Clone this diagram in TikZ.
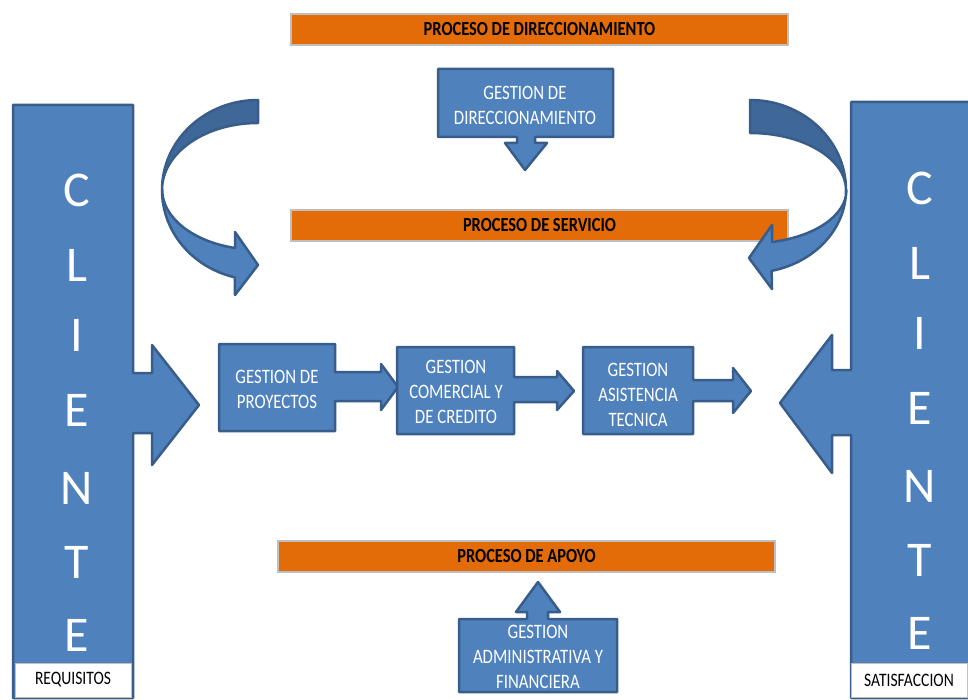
\documentclass[tikz,border=0pt]{standalone}
\usepackage{fontspec}
\setmainfont{Carlito}
\newfontfamily\cond{Carlito}[FakeStretch=0.82]
\definecolor{bblue}{HTML}{4F81BD}
\definecolor{bdark}{HTML}{3F6797}
\definecolor{bline}{HTML}{385D8A}
\definecolor{borange}{HTML}{E36C09}
\definecolor{bgray}{HTML}{BFBFBF}
\tikzset{
  blk/.style={fill=bblue, draw=bline, line width=2.5pt, line join=round},
  drk/.style={fill=bdark, draw=bline, line width=2.5pt, line join=round},
  bar/.style={fill=borange, draw=bgray, line width=1.5pt, minimum width=497, minimum height=31,
    font=\cond\bfseries\fontsize{20}{22}\selectfont, inner sep=0pt},
  lbl/.style={text=white, align=center, inner sep=0pt, font=\cond\fontsize{20.5}{25}\selectfont},
  big/.style={text=white, inner sep=0pt, font=\fontsize{50}{50}\selectfont},
  tag/.style={fill=white, draw=bgray, line width=1pt, minimum width=116, minimum height=34,
    inner sep=0pt, font=\cond\fontsize{19}{22}\selectfont}
}

\begin{document}
\begin{tikzpicture}[x=1pt, y=-1pt]
\useasboundingbox (0,0) rectangle (968,700);

\draw[blk] (13,105) -- (133,105) -- (133,373) -- (152,373) -- (152,345) -- (199,405) -- (152,465)
  -- (152,433) -- (133,433) -- (133,698) -- (13,698) -- cycle;
\draw[blk] (851,102) -- (975,102) -- (975,698) -- (851,698) -- (851,435) -- (832,435) -- (832,473)
  -- (780,403) -- (832,335) -- (832,370) -- (851,370) -- cycle;
\foreach \l/\y [count=\i] in {C/190,L/265,I/335,E/410,N/488,T/562,E/635} {
  \node[big] (cl\i) at (77,\y) {\l};
  \node[big] (cr\i) at (920,\y-2) {\l};
}
\node[tag] (req) at (73,680) {REQUISITOS};
\node[tag] (sat) at (909,680) {SATISFACCION};

\node[bar] (pdir) at (539.5,29.5) {PROCESO DE DIRECCIONAMIENTO};
\node[bar] (pser) at (539.5,225.5) {PROCESO DE SERVICIO};
\node[bar] (papo) at (526.5,556.5) {PROCESO DE APOYO};

\draw[drk] (258,100) arc[start angle=270, end angle=180, x radius=96, y radius=90]
  arc[start angle=180, end angle=270, x radius=96, y radius=67] -- cycle;
\draw[blk] (162,190) arc[start angle=180, end angle=104, x radius=96, y radius=90]
  -- (235,295) -- (258,265) -- (235,232) -- (235,248)
  arc[start angle=104, end angle=180, x radius=96, y radius=60] -- cycle;
\draw[drk] (750,100) arc[start angle=-90, end angle=0, x radius=96, y radius=90]
  arc[start angle=0, end angle=-90, x radius=96, y radius=57] -- cycle;
\draw[blk] (846,190) arc[start angle=0, end angle=77, x radius=96, y radius=83]
  -- (772,289) -- (749,258) -- (772,225) -- (772,242)
  arc[start angle=77, end angle=0, x radius=96, y radius=53] -- cycle;

\draw[blk] (438,69) -- (613,69) -- (613,137) -- (535,137) -- (535,143) -- (547,143) -- (525,170)
  -- (505,143) -- (517,143) -- (517,137) -- (438,137) -- cycle;
\node[lbl] (gdir) at (525,105) {GESTION DE\\DIRECCIONAMIENTO};

\draw[blk] (219,344) -- (335,344) -- (335,372) -- (381,372) -- (381,364) -- (398,387) -- (381,410)
  -- (381,401) -- (335,401) -- (335,431) -- (219,431) -- cycle;
\node[lbl] (gpro) at (277,389) {GESTION DE\\PROYECTOS};
\draw[blk] (397,347) -- (514,347) -- (514,377) -- (557,377) -- (557,371) -- (574,391) -- (557,410)
  -- (557,402) -- (514,402) -- (514,434) -- (397,434) -- cycle;
\node[lbl] (gcom) at (456,392) {GESTION\\COMERCIAL Y\\DE CREDITO};
\draw[blk] (583,347) -- (693,347) -- (693,380) -- (733,380) -- (733,368) -- (751,391) -- (733,413)
  -- (733,401) -- (693,401) -- (693,434) -- (583,434) -- cycle;
\node[lbl] (gasi) at (638,395) {GESTION\\ASISTENCIA\\TECNICA};

\draw[blk] (459,619) -- (527,619) -- (527,612) -- (516,612) -- (538,582) -- (560,612) -- (548,612)
  -- (548,619) -- (617,619) -- (617,692) -- (459,692) -- cycle;
\node[lbl] (gadm) at (538,657) {GESTION\\ADMINISTRATIVA Y\\FINANCIERA};

\end{tikzpicture}
\end{document}
